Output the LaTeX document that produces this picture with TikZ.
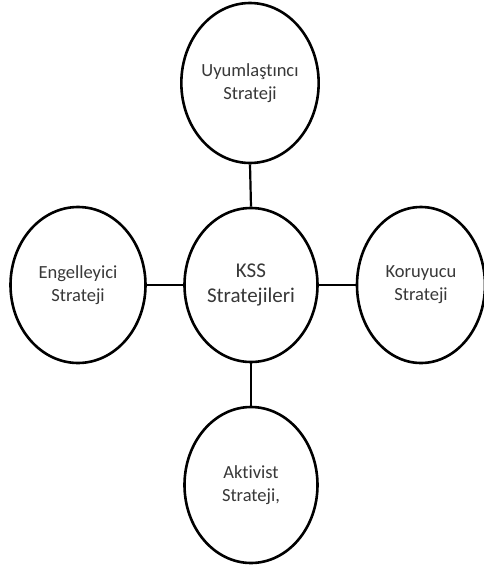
\documentclass[tikz,border=0pt]{standalone}
\usepackage{fontspec}
\setmainfont[Ligatures=NoCommon]{Carlito}
\usetikzlibrary{shapes.geometric}
\begin{document}
\begin{tikzpicture}[x=1pt,y=-1pt,
  strat/.style={ellipse, draw=black, line width=2.6pt, fill=white,
    inner sep=0pt, minimum width=133pt, minimum height=156pt,
    align=center, font=\fontsize{18.5}{23}\selectfont, text=black!78},
  link/.style={draw=black, line width=2.2pt}]
  \useasboundingbox (0,0) rectangle (483,566);
  \fill[white] (0,0) rectangle (483,566);

  \node[strat, minimum height=160pt] (top) at (250,83) {Uyumlaştıncı\\Strateji};
  \node[strat, minimum width=133pt, minimum height=154pt,
        font=\fontsize{21}{25}\selectfont] (mid) at (251,285) {KSS\\Stratejileri};
  \node[strat, minimum width=135pt] (left) at (78,285) {Engelleyici\\Strateji};
  \node[strat, minimum width=128pt] (right) at (421,285) {Koruyucu\\Strateji};
  \node[strat] (bot) at (251,485) {Aktivist\\Strateji,};

  \draw[link] (top.south) -- (mid.north);
  \draw[link] (mid.south) -- (bot.north);
  \draw[link] (left.east) -- (mid.west);
  \draw[link] (mid.east) -- (right.west);
\end{tikzpicture}
\end{document}
